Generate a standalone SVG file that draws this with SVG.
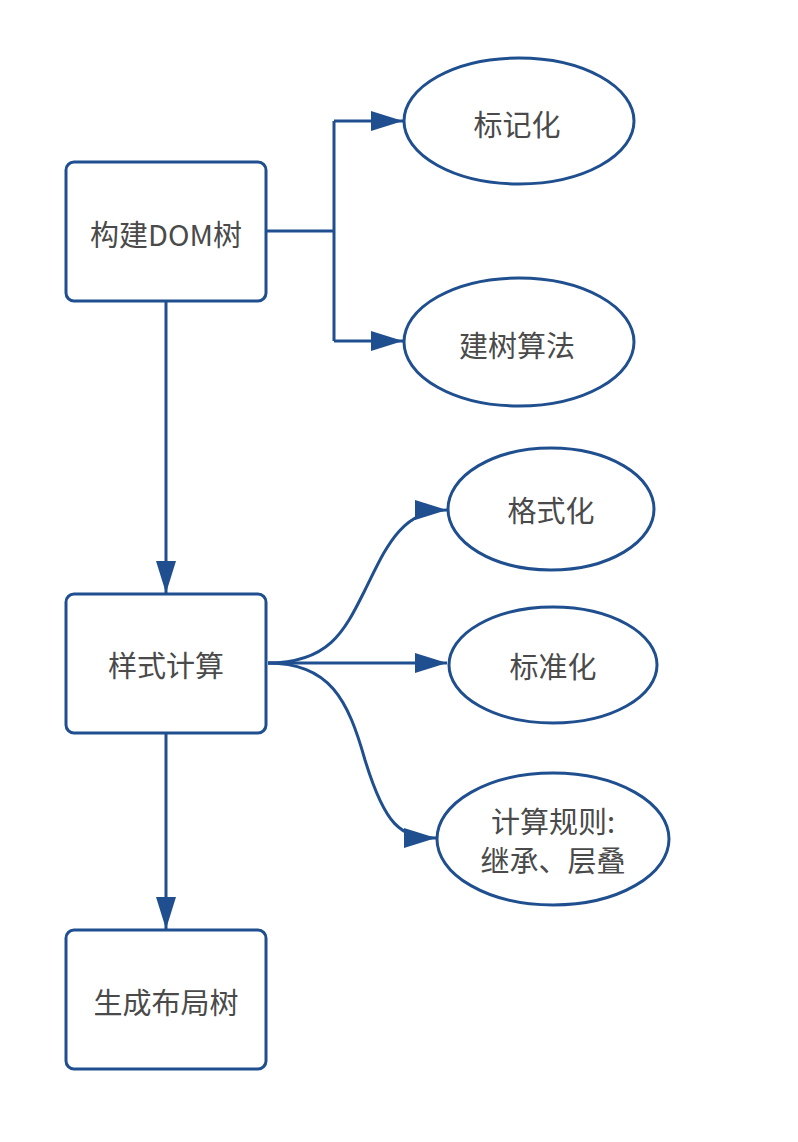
<svg xmlns="http://www.w3.org/2000/svg" width="798" height="1142" viewBox="0 0 798 1142">
<style>
.box{fill:#fff;stroke:#1f4f8f;stroke-width:3}
.conn{fill:none;stroke:#1f4f8f;stroke-width:3}
.t{font-family:"Noto Sans CJK SC","Liberation Sans",sans-serif;font-size:29px;fill:#4a4a4a;text-anchor:middle;dominant-baseline:central}
</style>
<defs>
<marker id="arr" viewBox="0 0 32 20" refX="32" refY="10" markerWidth="32" markerHeight="20" markerUnits="userSpaceOnUse" orient="auto">
<path d="M0,0 L32,10 L0,20 Z" fill="#1f4f8f"/>
</marker>
</defs>
<rect width="798" height="1142" fill="#fff"/>
<g id="connectors">
<path class="conn" d="M266,231 H334 M334,121 V341"/>
<path class="conn" d="M334,121 H403" marker-end="url(#arr)"/>
<path class="conn" d="M334,341 H403" marker-end="url(#arr)"/>
<path class="conn" d="M166,301 V593" marker-end="url(#arr)"/>
<path class="conn" d="M166,733 V929" marker-end="url(#arr)"/>
<path class="conn" d="M268,663 C330,663 345,630 365,590 C385,550 400,510 447,510" marker-end="url(#arr)"/>
<path class="conn" d="M268,663 H447" marker-end="url(#arr)"/>
<path class="conn" d="M268,663 C330,663 348,700 365,760 C385,825 400,838 436,838" marker-end="url(#arr)"/>
</g>
<g id="n1"><rect class="box" x="66" y="162" width="200" height="139" rx="8"/><text class="t" x="166" y="233">构建DOM树</text></g>
<g id="n2"><ellipse class="box" cx="519" cy="121" rx="115" ry="63"/><text class="t" x="517" y="123">标记化</text></g>
<g id="n3"><ellipse class="box" cx="519" cy="342" rx="115" ry="64"/><text class="t" x="517" y="344">建树算法</text></g>
<g id="n4"><rect class="box" x="66" y="594" width="200" height="139" rx="8"/><text class="t" x="166" y="664">样式计算</text></g>
<g id="n5"><ellipse class="box" cx="551" cy="509" rx="103" ry="61"/><text class="t" x="551" y="509">格式化</text></g>
<g id="n6"><ellipse class="box" cx="553" cy="665" rx="104" ry="58"/><text class="t" x="553" y="665">标准化</text></g>
<g id="n7"><ellipse class="box" cx="553" cy="839" rx="116" ry="66"/><text class="t" x="553" y="820">计算规则:</text><text class="t" x="553" y="859">继承、层叠</text></g>
<g id="n8"><rect class="box" x="66" y="930" width="200" height="139" rx="8"/><text class="t" x="166" y="1001">生成布局树</text></g>
</svg>
